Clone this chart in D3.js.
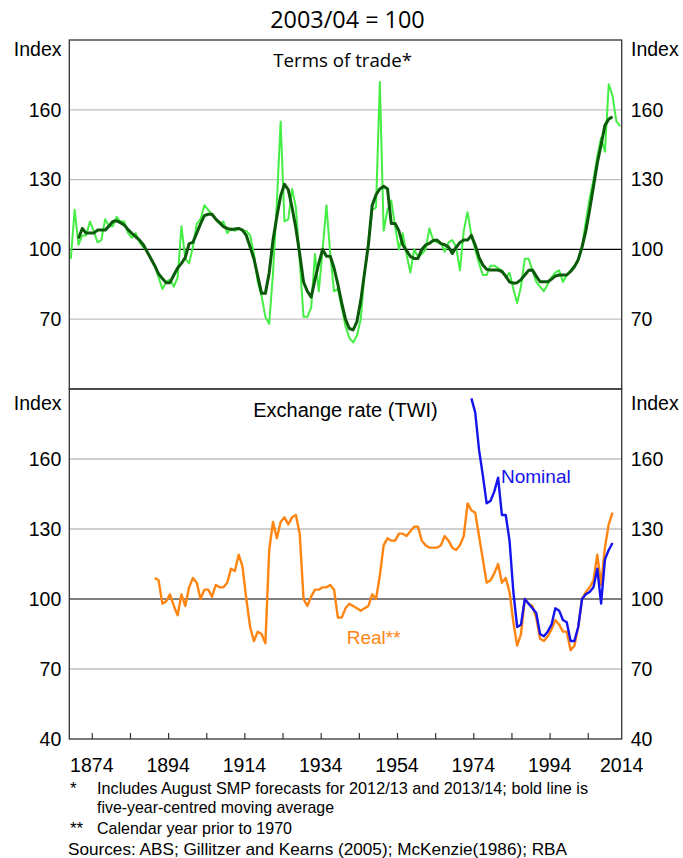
<!DOCTYPE html>
<html>
<head>
<meta charset="utf-8">
<script src="https://cdnjs.cloudflare.com/ajax/libs/d3/7.8.5/d3.min.js"></script>
<style>
  body { margin: 0; background: #fff; }
  svg { display: block; }
  text { font-family: "Liberation Sans", Arial, sans-serif; }
  .calibri { font-family: "Open Sans", "Liberation Sans", sans-serif; }
</style>
</head>
<body>
<div id="chart"></div>
<script>
// Terms of trade, annual, first value is 1868 (financial years, plotted mid-year)
const totStart = 1868;
const termsOfTrade = [
  96, 117, 102, 106, 106, 112, 108, 103, 104, 113,
  110, 110, 114, 112, 112, 107, 105, 107, 103, 101,
  99, 96, 93, 88, 83, 86, 87, 84, 88, 110,
  96, 94, 101, 111, 113, 119, 117, 115, 113, 111,
  112, 107, 109, 108, 109, 108, 108, 106, 98, 86,
  80, 71, 68, 90, 120, 155, 112, 113, 126, 118,
  95, 71, 71, 75, 98, 82, 100, 119, 98, 82,
  83, 75, 67, 62, 60, 63, 70, 90, 103, 117,
  118, 172, 108, 117, 121, 110, 100, 107, 98, 90,
  100, 97, 98, 100, 109, 104, 103, 103, 99, 103,
  104, 101, 91, 108, 116, 106, 100, 94, 89, 89,
  93, 93, 92, 91, 88, 90, 83, 77, 84, 96,
  96, 91, 86, 84, 82, 85, 88, 90, 91, 86,
  89, 91, 93, 95, 101, 112, 122, 130, 140, 148,
  142, 171, 166, 155, 153
];

// five-year-centred moving average, first value is 1870
const totAvgStart = 1870;
const termsOfTradeAvg = [
  104.7, 109, 107, 107, 107, 108.3, 108.3, 108.3, 110, 112,
  112.3, 111.5, 110.5, 108.5, 106.9, 105.5, 104, 102, 99, 96,
  93, 89.5, 87.5, 85.7, 85.7, 89, 92, 94, 96.5, 102.5,
  103, 107, 111, 114.5, 115.1, 115.1, 113, 111.5, 109.8, 109,
  108.6, 108.8, 109, 108.3, 106, 101, 96, 88.5, 81.1, 81.1,
  90, 104, 114, 123, 128, 125.7, 118, 109, 98, 86,
  82, 79.5, 87, 94, 100, 97.1, 97.1, 92, 85, 77,
  70, 66, 65.4, 69, 78, 90, 102, 119, 123.5, 126,
  127.1, 126.1, 111.1, 111.1, 108, 102, 99.5, 97, 96.1, 96.1,
  100, 101.9, 102.6, 103.8, 104, 102.5, 102, 101, 98.3, 100.9,
  103, 104, 104, 106, 101.9, 96.6, 93.3, 91.5, 91.1, 91.1,
  91.1, 90.5, 88.5, 86, 85.5, 85.7, 87, 89, 91, 91.1,
  88.5, 86.1, 86.1, 86.1, 87.2, 88.5, 89, 89, 89, 90.5,
  92.5, 95.6, 101, 108, 117, 127, 137, 145, 153.3, 156,
  157
];

// real TWI, first value is 1890
const realStart = 1890;
const realTWI = [
  109, 108, 98, 99, 102, 97, 93, 102, 97, 105,
  109, 107, 100, 104, 104, 101, 106, 105, 105, 107,
  113, 112, 119, 114, 100, 88, 82, 86, 85, 81,
  121, 133, 126, 133, 135, 132, 135, 136, 128, 100,
  97, 101, 104, 104, 105, 105, 106, 104, 92, 92,
  96, 98, 97, 96, 95, 96, 97, 102, 100, 110,
  123, 126, 125, 125, 128, 128, 127, 129, 131, 131,
  125, 123, 122, 122, 122, 123, 127, 125, 122, 121,
  123, 127, 141, 138, 137, 127, 117, 107, 108, 111,
  115, 107, 109, 103, 90, 80, 85, 100, 98, 97,
  92, 83, 82, 84, 87, 91, 89, 86, 86, 78,
  80, 88, 100, 103, 105, 108, 119, 106, 122, 132,
  137
];

// nominal TWI, first value is 1973
const nomStart = 1973;
const nominalTWI = [
  186, 180, 164, 153, 141, 142, 146, 152, 136, 136,
  125, 103, 88, 89, 100, 98, 96, 94, 85, 84,
  86, 89, 96, 95, 91, 90, 82, 82, 88, 100,
  102, 103, 105, 113, 98, 117, 121, 124
];

const topTicks = [70, 100, 130, 160];
const bottomTicks = [40, 70, 100, 130, 160];
const xTickYears = [1874, 1884, 1894, 1904, 1914, 1924, 1934, 1944, 1954, 1964, 1974, 1984, 1994, 2004];
const xLabelYears = [1874, 1894, 1914, 1934, 1954, 1974, 1994, 2014];

const footnotes = [
  { mark: "*", text: "Includes August SMP forecasts for 2012/13 and 2013/14; bold line is", len: 491 },
  { mark: "", text: "five-year-centred moving average", len: 237 },
  { mark: "**", text: "Calendar year prior to 1970", len: 195 }
];
const sources = "Sources: ABS; Gillitzer and Kearns (2005); McKenzie(1986); RBA";

function series(values, start) {
  return values.map((v, i) => ({ year: start + i, value: v }));
}

const W = 683, H = 858;
const left = 69.3, right = 621.7;
const panels = [
  { top: 40, bottom: 389, ticks: topTicks, title: "Terms of trade*", indexY: 55.7 },
  { top: 389, bottom: 739, ticks: bottomTicks, title: "Exchange rate (TWI)", indexY: 409.5 }
];

const svg = d3.select("#chart").append("svg").attr("width", W).attr("height", H);

const x = d3.scaleLinear().domain([1868.1, 2012.9]).range([left, right]);
// financial years sit in the middle of the year
const mid = d => x(d.year + 0.5);

svg.append("text")
  .attr("class", "calibri")
  .attr("x", 347.5).attr("y", 28.3)
  .attr("text-anchor", "middle")
  .style("font-size", "23.4px")
  .text("2003/04 = 100");

panels.forEach(function(p, k) {
  p.y = d3.scaleLinear().domain([40, 190]).range([p.bottom, p.top]);
  let g = svg.append("g");

  // grid
  g.selectAll("line.grid")
    .data(p.ticks.filter(t => t > 40))
    .enter().append("line")
    .attr("class", "grid")
    .attr("x1", left).attr("x2", right)
    .attr("y1", d => p.y(d)).attr("y2", d => p.y(d))
    .attr("stroke", d => d == 100 ? "#000" : "#c0c0c0")
    .attr("stroke-width", d => d == 100 ? 1.1 : 1.3);

  let yl = d3.axisLeft(p.y).tickValues(p.ticks).tickSize(0).tickPadding(8);
  let yr = d3.axisRight(p.y).tickValues(p.ticks).tickSize(0).tickPadding(9);
  let gl = g.append("g").attr("transform", "translate(" + left + ",0)").call(yl);
  let gr = g.append("g").attr("transform", "translate(" + right + ",0)").call(yr);
  [gl, gr].forEach(a => {
    a.select(".domain").remove();
    a.selectAll("text").style("font-size", "19.5px").style("font-family", "Liberation Sans, Arial, sans-serif").style("fill", "#000");
  });

  g.append("text").attr("x", 61.5).attr("y", p.indexY).attr("text-anchor", "end")
    .style("font-size", "19.5px").text("Index");
  g.append("text").attr("x", 631).attr("y", p.indexY)
    .style("font-size", "19.5px").text("Index");

  if (k == 0) {
    g.append("text").attr("class", "calibri")
      .attr("x", 342.7).attr("y", 66.5).attr("text-anchor", "middle")
      .style("font-size", "18.7px").text(p.title);
  } else {
    g.append("text")
      .attr("x", 345.5).attr("y", 416.7).attr("text-anchor", "middle")
      .style("font-size", "20px").text(p.title);
  }
});

const yTop = panels[0].y, yBot = panels[1].y;

function drawLine(data, y, color, width) {
  svg.append("path")
    .datum(data)
    .attr("fill", "none")
    .attr("stroke", color)
    .attr("stroke-width", width)
    .attr("stroke-linejoin", "round")
    .attr("d", d3.line().x(mid).y(d => y(d.value)));
}

drawLine(series(termsOfTrade, totStart), yTop, "#44ee44", 2);
drawLine(series(termsOfTradeAvg, totAvgStart), yTop, "#0a5a0a", 3);
drawLine(series(realTWI, realStart), yBot, "#ff8512", 2.4);
drawLine(series(nominalTWI, nomStart), yBot, "#1414ee", 2.4);

svg.append("text").attr("x", 501).attr("y", 482.7)
  .style("font-size", "19px").style("fill", "#1414ee").text("Nominal");
svg.append("text").attr("x", 346.7).attr("y", 644.3)
  .style("font-size", "19px").style("fill", "#ff8512").text("Real**");

// frames
panels.forEach(function(p) {
  svg.append("rect")
    .attr("x", left).attr("y", p.top)
    .attr("width", right - left).attr("height", p.bottom - p.top)
    .attr("fill", "none").attr("stroke", "#333").attr("stroke-width", 1.3);
});

// x axis ticks on the bottom panel
let xa = d3.axisBottom(x).tickValues(xTickYears).tickSizeInner(-6).tickSizeOuter(0).tickFormat("");
let gx = svg.append("g").attr("transform", "translate(0," + panels[1].bottom + ")").call(xa);
gx.select(".domain").remove();
gx.selectAll("line").attr("stroke", "#333").attr("stroke-width", 1.2);

svg.append("g").selectAll("text")
  .data(xLabelYears)
  .enter().append("text")
  .attr("x", d => Math.min(x(d), right))
  .attr("y", 771.7)
  .attr("text-anchor", "middle")
  .style("font-size", "19.5px")
  .text(d => d);

// notes
let notes = svg.append("g").style("font-size", "17px");
const noteY = [794, 813, 834];
footnotes.forEach(function(f, i) {
  notes.append("text").attr("x", 70).attr("y", noteY[i]).text(f.mark);
  notes.append("text").attr("x", 97).attr("y", noteY[i])
    .attr("textLength", f.len).attr("lengthAdjust", "spacingAndGlyphs").text(f.text);
});
notes.append("text").attr("x", 68).attr("y", 855)
  .attr("textLength", 499).attr("lengthAdjust", "spacingAndGlyphs").text(sources);
</script>
</body>
</html>
